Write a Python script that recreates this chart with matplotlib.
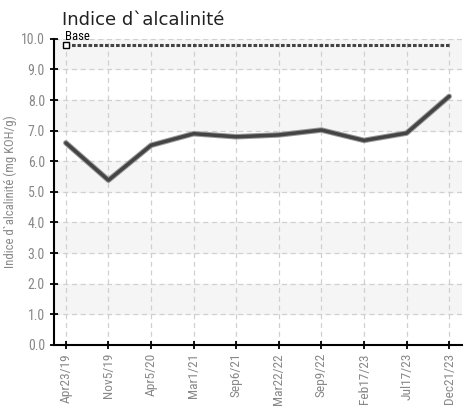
import matplotlib
matplotlib.use("Agg")
import matplotlib.pyplot as plt
from matplotlib import font_manager
import numpy as np

# données
dates = ["Apr23/19", "Nov5/19", "Apr5/20", "Mar1/21", "Sep6/21",
         "Mar22/22", "Sep9/22", "Feb17/23", "Jul17/23", "Dec21/23"]
valeurs = [6.6, 5.38, 6.52, 6.9, 6.8, 6.86, 7.02, 6.68, 6.92, 8.12]
base = 9.8
y_ticks = [0.0, 1.0, 2.0, 3.0, 4.0, 5.0, 6.0, 7.0, 8.0, 9.0, 10.0]

# police étroite si disponible
noms = {(f.name, f.stretch) for f in font_manager.fontManager.ttflist}
familles = {n for n, _ in noms}
narrow_fp = None
for nom in ["Roboto Condensed", "Liberation Sans Narrow", "Open Sans Condensed"]:
    if nom in familles:
        narrow_fp = dict(family=nom)
        break
if narrow_fp is None:
    if ("DejaVu Sans", "condensed") in noms or ("DejaVu Sans", "semi-condensed") in noms:
        narrow_fp = dict(family="DejaVu Sans", stretch="condensed")
    else:
        narrow_fp = dict(family="DejaVu Sans")

fig = plt.figure(figsize=(4.69, 4.09), dpi=100)
ax = fig.add_axes([0.115, 0.157, 0.87, 0.748])

x = np.arange(len(dates))

# bandes alternées
for i in range(1, 10, 2):
    ax.axhspan(y_ticks[i], y_ticks[i + 1], color="#f5f5f5", zorder=0)

ax.grid(True, linestyle=(0, (4, 3)), color="#d0d0d0", linewidth=0.9, zorder=1)

# ligne de base
ax.plot(x, [base] * len(x), color="#444444", linewidth=2.2,
        linestyle=(0, (1.2, 0.6)), zorder=3)
ax.plot([x[0]], [base], marker="s", markersize=4, markerfacecolor="white",
        markeredgecolor="black", markeredgewidth=1, zorder=4)
ax.text(x[0] - 0.02, base + 0.05, "Base", fontsize=9.2, color="black",
        va="bottom", **narrow_fp)

# série
ax.plot(x, valeurs, color="#999999", linewidth=4.0, zorder=4, solid_capstyle="round")
ax.plot(x, valeurs, color="#444444", linewidth=2.5, zorder=5, solid_capstyle="round")

ax.set_xlim(-0.28, 9.3)
ax.set_ylim(0, 10)
ax.set_xticks(x)
ax.set_xticklabels(dates, rotation=90, fontsize=9.6, color="#888888", **narrow_fp)
ax.set_yticks(y_ticks)
ax.set_yticklabels([f"{v:.1f}" for v in y_ticks], fontsize=10,
                   color="#888888", **narrow_fp)
ax.tick_params(direction="inout", length=6, width=1.3, color="black")
ax.tick_params(axis="x", pad=3)

for s in ["top", "right"]:
    ax.spines[s].set_visible(False)
ax.spines["left"].set_linewidth(1.5)
ax.spines["bottom"].set_linewidth(1.5)

ax.set_ylabel("Indice d`alcalinité (mg KOH/g)", fontsize=9.2,
              color="#888888", labelpad=3, **narrow_fp)

fig.text(0.132, 0.94, "Indice d`alcalinité", fontsize=13, color="#222222",
         family="DejaVu Sans")

fig.savefig("out.png", dpi=100)
